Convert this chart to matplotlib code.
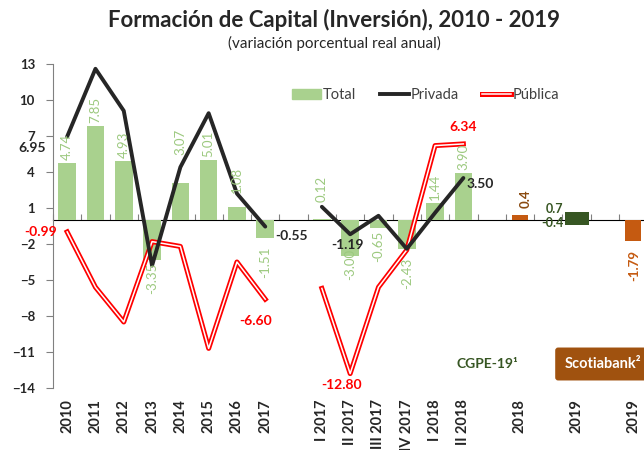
import numpy as np
import matplotlib
matplotlib.use("Agg")
import matplotlib.pyplot as plt
from matplotlib.patches import Patch
from matplotlib.lines import Line2D

plt.rcParams['font.family'] = ['Lato', 'DejaVu Sans']

nan = np.nan

# categories (blank ones are the gaps between blocks)
categories = ['2010', '2011', '2012', '2013', '2014', '2015', '2016', '2017', '',
              'I 2017', 'II 2017', 'III 2017', 'IV 2017', 'I 2018', 'II 2018', '',
              '2018', '', '2019', '', '2019']

total = [4.74, 7.85, 4.93, -3.35, 3.07, 5.01, 1.08, -1.51, nan,
         0.12, -3.00, -0.65, -2.43, 1.44, 3.90, nan,
         nan, nan, nan, nan, nan]
privada = [6.95, 12.6, 9.1, -3.8, 4.4, 8.9, 2.2, -0.55, nan,
           1.1, -1.19, 0.35, -2.4, 0.6, 3.50, nan,
           nan, nan, nan, nan, nan]
publica = [-0.99, -5.6, -8.5, -1.8, -2.2, -10.7, -3.5, -6.60, nan,
           -5.7, -12.80, -5.6, -2.5, 6.2, 6.34, nan,
           nan, nan, nan, nan, nan]

# forecasts
scotiabank = [nan] * 16 + [0.4, nan, nan, nan, -1.79]
cgpe_pos = [nan] * 18 + [0.7, nan, nan]
cgpe_neg = [nan] * 18 + [-0.4, nan, nan]

# which line values get a label
privada_labeled = ['2010', '2017', 'II 2017', 'II 2018']
publica_labeled = ['2010', '2017', 'II 2017', 'II 2018']

# colours
c_total = '#a9d18e'
c_total_txt = '#9cc97f'
c_priv = '#262626'
c_pub = '#ff0000'
c_scotia = '#c55a11'
c_scotia_box = '#a0520f'
c_cgpe = '#375623'
c_axis = '#808080'

x = np.arange(len(categories))

fig = plt.figure(figsize=(6.44, 4.5), dpi=100)
ax = fig.add_axes([53 / 644, 62 / 450, 591.5 / 644, 324 / 450])
ax.set_xlim(-0.5, 20.4)
ax.set_ylim(-14, 13)

# bars
ax.bar(x, total, width=0.62, color=c_total, zorder=2)
ax.bar(x, scotiabank, width=0.56, color=c_scotia, zorder=2)
ax.bar(x, cgpe_pos, width=0.85, color=c_cgpe, zorder=2)
ax.bar(x, cgpe_neg, width=0.85, color=c_cgpe, zorder=2)

# lines
ax.plot(x, privada, color=c_priv, lw=2.8, zorder=4, solid_capstyle='round')
ax.plot(x, publica, color=c_pub, lw=3.6, zorder=3)
ax.plot(x, publica, color='white', lw=1.1, zorder=3)

# labels on total bars (rotated), a few nudged like the original
nudge = {4: 18, 6: 8, 7: 4, 9: 10, 10: -7, 12: 4}
for i, v in enumerate(total):
    if np.isnan(v):
        continue
    dy = 2 + nudge.get(i, 0)
    if v >= 0:
        ax.annotate(f'{v:.2f}', (i, v), xytext=(0, dy), textcoords='offset points',
                    rotation=90, ha='center', va='bottom', fontsize=9.5,
                    color=c_total_txt, zorder=5)
    else:
        ax.annotate(f'{v:.2f}', (i, v), xytext=(0, -dy), textcoords='offset points',
                    rotation=90, ha='center', va='top', fontsize=9.5,
                    color=c_total_txt, zorder=5)

# line labels
priv_off = {'2010': (-15, -8, 'right'), '2017': (7, -7, 'left'),
            'II 2017': (-2, -8, 'center'), 'II 2018': (2, -4, 'left')}
pub_off = {'2010': (-7, 0, 'right'), '2017': (-7, -16, 'center'),
           'II 2017': (-6, -8, 'center'), 'II 2018': (0, 12, 'center')}
for lab in privada_labeled:
    i = categories.index(lab)
    dx, dy, ha = priv_off[lab]
    ax.annotate(f'{privada[i]:.2f}', (i, privada[i]), xytext=(dx, dy),
                textcoords='offset points', ha=ha, va='center', fontsize=10,
                fontweight='bold', color=c_priv, zorder=6, annotation_clip=False)
for lab in publica_labeled:
    i = categories.index(lab)
    dx, dy, ha = pub_off[lab]
    ax.annotate(f'{publica[i]:.2f}', (i, publica[i]), xytext=(dx, dy),
                textcoords='offset points', ha=ha, va='center', fontsize=10,
                fontweight='bold', color=c_pub, zorder=6, annotation_clip=False)

# forecast labels
for i, v in enumerate(scotiabank):
    if np.isnan(v):
        continue
    if v >= 0:
        ax.annotate(f'{v:.1f}', (i, v), xytext=(4, 5), textcoords='offset points',
                    rotation=90, ha='center', va='bottom', fontsize=9.5,
                    fontweight='bold', color='#8a4a10', zorder=5)
    else:
        ax.annotate(f'{v:.2f}', (i, v), xytext=(1, -6), textcoords='offset points',
                    rotation=90, ha='center', va='top', fontsize=9.5,
                    fontweight='bold', color=c_scotia, zorder=5)
for vals, dy in ((cgpe_pos, 2), (cgpe_neg, 1)):
    for i, v in enumerate(vals):
        if np.isnan(v):
            continue
        ax.annotate(f'{v:.1f}', (i - 0.425, v), xytext=(-1, dy),
                    textcoords='offset points', ha='right', va='center',
                    fontsize=9, fontweight='bold', color=c_cgpe, zorder=5)

# axes styling
for s in ('top', 'right', 'bottom'):
    ax.spines[s].set_visible(False)
ax.spines['left'].set_color(c_axis)
ax.set_yticks(np.arange(-14, 14, 3))
ax.tick_params(axis='y', direction='out', length=5, color=c_axis, pad=8,
               labelsize=9.5, labelcolor='#262626')
for t in ax.get_yticklabels():
    t.set_fontweight('bold')
ax.set_xticks(x)
ax.set_xticklabels(categories, rotation=90, fontsize=10.5, fontweight='bold',
                   color='#262626', va='top')
ax.tick_params(axis='x', length=0, pad=8)

# horizontal axis line at zero with boundary ticks
y0, y1 = ax.get_ylim()
zero_ax = ax.secondary_xaxis((0 - y0) / (y1 - y0))
zero_ax.set_xticks(np.arange(-0.5, len(categories), 1))
zero_ax.set_xticklabels([])
zero_ax.tick_params(direction='out', length=4, color=c_axis)
zero_ax.spines['bottom'].set_color(c_axis)

# legend
handles = [Patch(color=c_total),
           Line2D([], [], color=c_priv, lw=2.8),
           (Line2D([], [], color=c_pub, lw=3.6), Line2D([], [], color='white', lw=1.1))]
ax.legend(handles, ['Total', 'Privada', 'Pública'], ncol=3, frameon=False,
          loc='center', bbox_to_anchor=(0.63, 0.904), fontsize=10.5,
          handlelength=2.0, handletextpad=0.1, columnspacing=1.6,
          labelcolor='#404040')

# titles and source notes
fig.text(334 / 644, 1 - 20 / 450, 'Formación de Capital (Inversión), 2010 - 2019',
         ha='center', va='center', fontsize=16, fontweight='bold', color='#262626')
fig.text(334 / 644, 1 - 43 / 450, '(variación porcentual real anual)',
         ha='center', va='center', fontsize=11, color='#262626')
fig.text(487 / 644, 1 - 364 / 450, 'CGPE-19¹', ha='center', va='center',
         fontsize=10, fontweight='bold', color=c_cgpe)
fig.text(603 / 644, 1 - 364 / 450, 'Scotiabank²', ha='center', va='center',
         fontsize=10.5, fontweight='bold', color='white',
         bbox=dict(boxstyle='round,pad=0.65,rounding_size=0.2', fc=c_scotia_box, ec='none'))

fig.savefig('out.png', dpi=100)
